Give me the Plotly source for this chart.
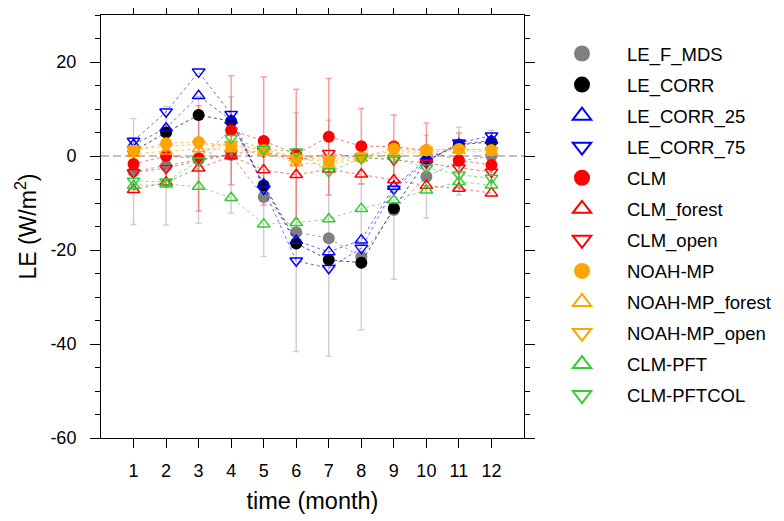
import plotly.graph_objects as go

months = list(range(1, 13))
month_labels = [str(m) for m in months]
y_ticks = [-60, -40, -20, 0, 20]

LE_F_MDS = [-3.3, -2.1, -0.8, 0.2, -8.7, -16.2, -17.5, -21.5, -11.5, -4.4, -1.1, 0.0]
LE_F_MDS_err = [11.3, 12.6, 13.5, 12.4, 12.7, 25.4, 25.1, 15.5, 14.7, 8.8, 7.2, 5.4]
LE_CORR = [1.0, 5.0, 8.7, 7.4, -6.3, -18.6, -22.1, -22.7, -11.1, -1.0, 2.4, 3.0]
LE_CORR_25 = [2.4, 5.9, 12.8, 7.6, -6.0, -18.0, -20.4, -17.9, -6.5, -0.8, 2.5, 3.3]
LE_CORR_75 = [3.2, 9.4, 17.9, 8.9, -7.0, -22.3, -23.9, -19.6, -7.0, -1.2, 2.8, 4.3]
CLM = [-1.7, 0.0, -0.5, 5.5, 3.2, 0.4, 4.1, 2.1, 2.0, 1.2, -0.9, -1.9]
CLM_err = [5.5, 6.5, 11.2, 11.6, 13.6, 13.8, 12.4, 8.0, 6.7, 5.8, 5.8, 5.0]
CLM_forest = [-7.2, -5.6, -2.6, 0.0, -3.0, -4.0, -2.8, -3.9, -5.1, -6.3, -6.9, -7.9]
CLM_open = [-3.5, -2.6, -1.0, 0.5, 1.0, -1.0, 0.6, -0.3, -0.8, -1.5, -2.5, -3.4]
NOAH_MP = [1.1, 2.7, 3.0, 2.1, 1.3, -0.6, -1.2, -0.3, 1.6, 1.3, 1.5, 1.3]
NOAH_MP_forest = [0.5, 1.0, 1.5, 1.5, 0.8, -1.5, -1.8, -0.5, 0.5, 0.8, 1.2, 0.8]
NOAH_MP_open = [1.5, 2.0, 2.5, 2.5, 1.5, -0.3, -0.8, 0.0, 1.0, 1.2, 1.5, 1.2]
CLM_PFT = [-6.3, -6.0, -6.5, -8.9, -14.5, -14.2, -13.4, -11.2, -9.4, -7.3, -5.5, -6.2]
CLM_PFTCOL = [-5.3, -5.5, -1.0, 3.8, 1.5, 0.9, -3.3, -0.5, -0.5, -2.5, -4.0, -4.7]

FONT = "Liberation Sans, Arial, Helvetica, sans-serif"

series = [
    ("LE_F_MDS", LE_F_MDS, "#808080", "circle", "rgba(128,128,128,0.7)"),
    ("LE_CORR", LE_CORR, "#000000", "circle", "rgba(0,0,0,0.7)"),
    ("LE_CORR_25", LE_CORR_25, "#0000ff", "triangle-up-open", "rgba(0,0,255,0.6)"),
    ("LE_CORR_75", LE_CORR_75, "#0000ff", "triangle-down-open", "rgba(0,0,255,0.6)"),
    ("CLM", CLM, "#ff0000", "circle", "rgba(255,0,0,0.55)"),
    ("CLM_forest", CLM_forest, "#ff0000", "triangle-up-open", "rgba(255,0,0,0.55)"),
    ("CLM_open", CLM_open, "#ff0000", "triangle-down-open", "rgba(255,0,0,0.55)"),
    ("NOAH-MP", NOAH_MP, "#ffa500", "circle", "rgba(255,165,0,0.6)"),
    ("NOAH-MP_forest", NOAH_MP_forest, "#ffa500", "triangle-up-open", "rgba(255,165,0,0.6)"),
    ("NOAH-MP_open", NOAH_MP_open, "#ffa500", "triangle-down-open", "rgba(255,165,0,0.6)"),
    ("CLM-PFT", CLM_PFT, "#33cc33", "triangle-up-open", "rgba(51,204,51,0.6)"),
    ("CLM-PFTCOL", CLM_PFTCOL, "#33cc33", "triangle-down-open", "rgba(51,204,51,0.6)"),
]

fig = go.Figure()

# error bars (drawn first, behind markers)
fig.add_trace(go.Scatter(
    x=months, y=LE_F_MDS, mode="markers", marker=dict(opacity=0, size=1),
    error_y=dict(type="data", array=LE_F_MDS_err, visible=True, color="#d0d0d0", thickness=1.5, width=3),
    showlegend=False, hoverinfo="skip"))
fig.add_trace(go.Scatter(
    x=months, y=CLM, mode="markers", marker=dict(opacity=0, size=1),
    error_y=dict(type="data", array=CLM_err, visible=True, color="rgba(255,60,60,0.5)", thickness=1.5, width=3),
    showlegend=False, hoverinfo="skip"))

for name, vals, color, sym, lcol in series:
    is_open = sym.endswith("open")
    fig.add_trace(go.Scatter(
        x=months, y=vals, mode="lines+markers", name=name,
        line=dict(color=lcol, width=1, dash="3px,3px"),
        marker=dict(symbol=sym, size=11 if is_open else 12, color=color,
                    line=dict(color=color, width=1.5 if is_open else 0)),
        showlegend=False))

for name, vals, color, sym, lcol in series:
    is_open = sym.endswith("open")
    fig.add_trace(go.Scatter(
        x=[None], y=[None], mode="markers", name=name, legendgroup=name,
        marker=dict(symbol=sym, size=16, color=color,
                    line=dict(color=color, width=2 if is_open else 0)),
        showlegend=True))

fig.add_shape(type="line", xref="paper", x0=0, x1=1, yref="y", y0=0, y1=0,
              line=dict(color="#808080", width=1.2, dash="8px,4px"), layer="below")

# page body has an 8px margin: figure is drawn at (8, 8)
W, H = 776, 513
L, T = 93, 7
PW, PH = 423, 423

fig.update_layout(
    width=W, height=H,
    margin=dict(l=L, r=W - L - PW, t=T, b=H - T - PH, autoexpand=False),
    paper_bgcolor="white", plot_bgcolor="white",
    font=dict(family=FONT, color="black"),
    showlegend=True,
    legend=dict(x=(529 - L) / PW, xanchor="left",
                y=(T + PH - 27) / PH, yanchor="top",
                maxheight=600,
                font=dict(family=FONT, size=18.5, color="black"),
                itemwidth=80, tracegroupgap=4, bgcolor="rgba(0,0,0,0)"),
    xaxis=dict(range=[0, 13], tickmode="array", tickvals=months, ticktext=month_labels,
               automargin=False,
               showgrid=False, zeroline=False, showline=True, linecolor="black", linewidth=1,
               mirror="allticks", ticks="outside", ticklen=9, tickcolor="black", tickwidth=1,
               tickfont=dict(family=FONT, size=18), ticklabelstandoff=7,
               title=dict(text="time (month)", font=dict(family=FONT, size=23.5), standoff=12)),
    yaxis=dict(range=[-60, 30], tickmode="array", tickvals=y_ticks, ticktext=[str(v) for v in y_ticks],
               automargin=False,
               showgrid=False, zeroline=False, showline=True, linecolor="black", linewidth=1,
               mirror="allticks", ticks="outside", ticklen=10, tickcolor="black", tickwidth=1,
               tickfont=dict(family=FONT, size=18), ticklabelstandoff=10,
               minor=dict(dtick=5, tick0=0, ticks="outside", ticklen=5, tickcolor="black", tickwidth=1),
               title=dict(text="LE (W/m<sup>2</sup>)", font=dict(family=FONT, size=23), standoff=7)),
)

fig.write_html("out.html")
